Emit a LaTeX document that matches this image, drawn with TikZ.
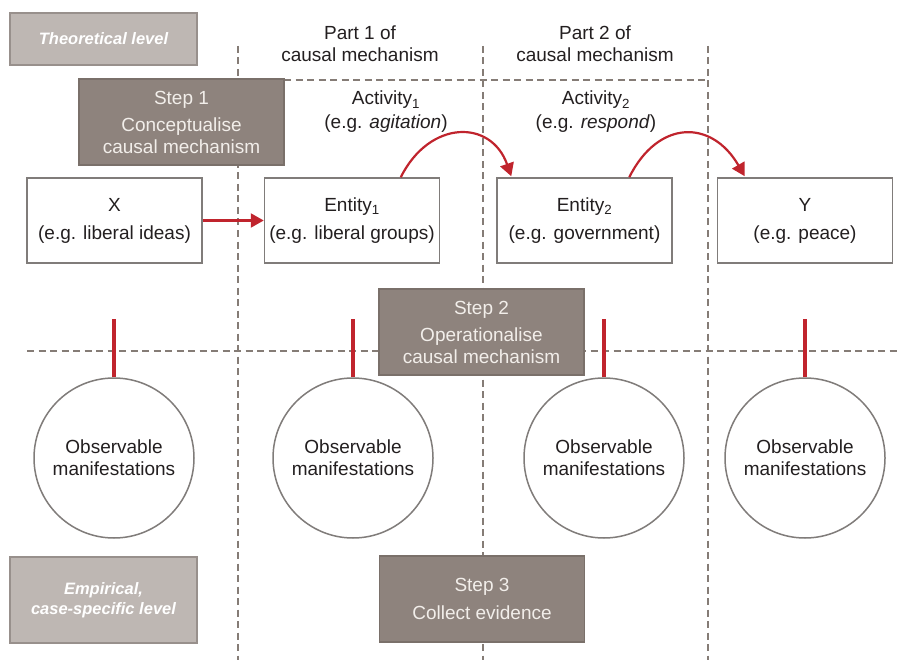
\documentclass[tikz,border=0pt]{standalone}
\usepackage{fontspec}
\setmainfont{Liberation Sans}
\usetikzlibrary{arrows.meta,calc}

\definecolor{stepfill}{RGB}{142,131,125}
\definecolor{stepedge}{RGB}{122,112,106}
\definecolor{levelfill}{RGB}{190,183,179}
\definecolor{leveledge}{RGB}{152,144,140}
\definecolor{boxedge}{RGB}{128,124,122}
\definecolor{guide}{RGB}{133,124,118}
\definecolor{linkred}{RGB}{192,36,45}
\definecolor{ink}{RGB}{35,31,32}
\definecolor{steptext}{RGB}{242,238,234}

\begin{document}
\begin{tikzpicture}[x=1pt,y=-1pt,
  every node/.style={font=\fontsize{19}{22}\selectfont, text=ink},
  guideline/.style={draw=guide, line width=1.6pt, dash pattern=on 7pt off 4.5pt},
  levelbox/.style={draw=leveledge, fill=levelfill, line width=1.5pt,
    minimum width=187pt, minimum height=52pt, text=white,
    font=\fontsize{16.5}{20}\selectfont\bfseries\itshape, align=center},
  stepbox/.style={draw=stepedge, fill=stepfill, line width=1.5pt,
    minimum width=205pt, minimum height=86pt, text=steptext, align=center},
  entitybox/.style={draw=boxedge, fill=white, line width=1.5pt,
    minimum width=175pt, minimum height=85pt, align=center},
  manifest/.style={circle, draw=boxedge, fill=white, line width=1.5pt,
    minimum size=160pt, inner sep=0pt, align=center},
  link/.style={draw=linkred, line width=2.2pt, -{Triangle[length=13pt,width=14pt]}},
  bar/.style={draw=linkred, line width=4pt},
  caption/.style={align=center}
]
\useasboundingbox (0,0) rectangle (901,660);

% dashed grid separating parts and levels
\coordinate (v1top) at (238,46);  \coordinate (v1bot) at (238,660);
\coordinate (v2top) at (483,46);  \coordinate (v2bot) at (483,660);
\coordinate (v3top) at (708,46);  \coordinate (v3bot) at (708,660);
\coordinate (htopL) at (238,80);  \coordinate (htopR) at (708,80);
\coordinate (hmidL) at (27,351);  \coordinate (hmidR) at (901,351);
\draw[guideline] (v1top) -- (v1bot);
\draw[guideline] (v2top) -- (v2bot);
\draw[guideline] (v3top) -- (v3bot);
\draw[guideline] (htopL) -- (htopR);
\draw[guideline] (hmidL) -- (hmidR);

% level labels
\node[levelbox] (theo) at (103.5,39) {Theoretical level};
\node[levelbox, minimum height=86pt] (emp) at (103.5,600) {Empirical,\\case-specific level};

% column headings
\node[caption] (part1) at (360,44) {Part 1 of\\causal mechanism};
\node[caption] (part2) at (595,44) {Part 2 of\\causal mechanism};
\node[caption] (act1) at (386,112) {Activity\textsubscript{1}\\[2pt](e.g. \textit{agitation})};
\node[caption] (act2) at (596,112) {Activity\textsubscript{2}\\[2pt](e.g. \textit{respond})};

% steps
\node[stepbox] (s1) at (181.5,122) {Step 1\\[5pt]Conceptualise\\causal mechanism};
\node[stepbox] (s2) at (481.5,332) {Step 2\\[5pt]Operationalise\\causal mechanism};
\node[stepbox] (s3) at (482,599) {Step 3\\[6pt]Collect evidence};

% theoretical chain
\node[entitybox] (x)  at (114.5,220.5) {X\\[6pt](e.g. liberal ideas)};
\node[entitybox] (e1) at (352,220.5)   {Entity\textsubscript{1}\\[6pt](e.g. liberal groups)};
\node[entitybox] (e2) at (584.5,220.5) {Entity\textsubscript{2}\\[6pt](e.g. government)};
\node[entitybox] (y)  at (805,220.5)   {Y\\[6pt](e.g. peace)};

\draw[link] (x.east) -- (e1.west);
\draw[link] ($(e1.north west)+(137,0)$) .. controls ($(e1.north west)+(166,-58)$) and ($(e2.north west)+(-5,-58)$) .. ($(e2.north west)+(15,-1)$);
\draw[link] ($(e2.north west)+(133,0)$) .. controls ($(e2.north west)+(162,-58)$) and ($(y.north west)+(-5,-58)$) .. ($(y.north west)+(28,-1)$);

% empirical manifestations
\node[manifest] (c1) at (114,458) {Observable\\manifestations};
\node[manifest] (c2) at (353,458) {Observable\\manifestations};
\node[manifest] (c3) at (604,458) {Observable\\manifestations};
\node[manifest] (c4) at (805,458) {Observable\\manifestations};

\draw[bar] (c1.north) -- ++(0,-58);
\draw[bar] (c2.north) -- ++(0,-58);
\draw[bar] (c3.north) -- ++(0,-58);
\draw[bar] (c4.north) -- ++(0,-58);
\end{tikzpicture}
\end{document}
